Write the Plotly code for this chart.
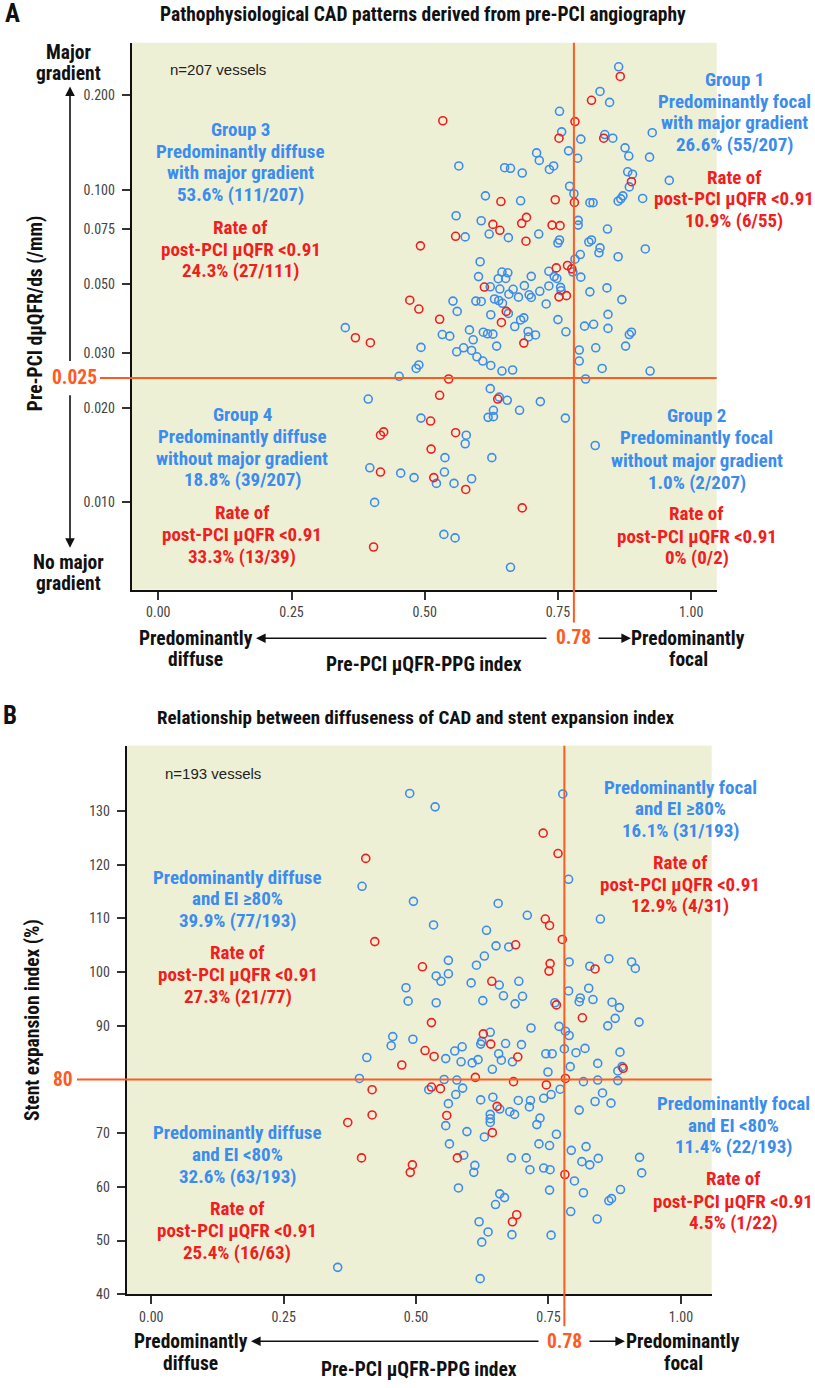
import plotly.graph_objects as go

W, H = 815, 1388

# ---------------- Panel A data (x: pre-PCI uQFR-PPG index, y: dQFR/ds /mm) ----------------
a_blue_x = [0.864, 0.829, 0.847, 0.753, 0.757, 0.793, 0.838, 0.853, 0.927, 0.876,
            0.710, 0.770, 0.883, 0.922, 0.715, 0.787, 0.564, 0.650, 0.661, 0.683,
            0.742, 0.734, 0.881, 0.890, 0.884, 0.959, 0.772, 0.780, 0.614, 0.680,
            0.810, 0.816, 0.863, 0.868, 0.872, 0.909, 0.559, 0.606, 0.788, 0.788,
            0.843, 0.576, 0.621, 0.657, 0.714, 0.753, 0.750, 0.808, 0.813, 0.914,
            0.829, 0.827, 0.863, 0.792, 0.782, 0.604, 0.778, 0.793, 0.733, 0.743,
            0.748, 0.700, 0.645, 0.656, 0.638, 0.652, 0.601, 0.623, 0.641, 0.666,
            0.687, 0.658, 0.676, 0.696, 0.700, 0.716, 0.733, 0.755, 0.756, 0.810,
            0.842, 0.870, 0.553, 0.596, 0.606, 0.631, 0.639, 0.646, 0.728,
            0.561, 0.657, 0.624, 0.680, 0.686, 0.750, 0.844, 0.351, 0.493, 0.533,
            0.547, 0.584, 0.591, 0.610, 0.618, 0.628, 0.669, 0.635, 0.694, 0.695,
            0.708, 0.765, 0.800, 0.817, 0.844, 0.884, 0.888, 0.877, 0.821, 0.790,
            0.790, 0.833, 0.923, 0.802, 0.560, 0.573, 0.588, 0.598, 0.609, 0.624,
            0.645, 0.665, 0.489, 0.484, 0.452, 0.623, 0.640, 0.655, 0.717, 0.678,
            0.629, 0.619, 0.629, 0.764, 0.394, 0.493, 0.578, 0.576, 0.538, 0.626,
            0.820, 0.397, 0.455, 0.480, 0.522, 0.537, 0.555, 0.588, 0.406, 0.536,
            0.557, 0.661]
a_blue_y = [0.247, 0.206, 0.190, 0.178, 0.153, 0.145, 0.150, 0.146, 0.152, 0.136,
            0.131, 0.133, 0.128, 0.127, 0.124, 0.126, 0.119, 0.1175, 0.117, 0.113,
            0.119, 0.116, 0.114, 0.112, 0.102, 0.107, 0.1025, 0.097, 0.0955, 0.0921,
            0.0908, 0.0908, 0.0918, 0.0934, 0.0955, 0.0937, 0.0825, 0.0795, 0.0797, 0.0770,
            0.0748, 0.0706, 0.0721, 0.0702, 0.0721, 0.0690, 0.0675, 0.0680, 0.0690, 0.0646,
            0.0651, 0.0628, 0.0610, 0.0620, 0.0599, 0.0588, 0.0545, 0.0525, 0.0548, 0.0527,
            0.0520, 0.0528, 0.0545, 0.0542, 0.0519, 0.0520, 0.0527, 0.0489, 0.0481, 0.0480,
            0.0493, 0.0463, 0.0453, 0.0461, 0.0452, 0.0473, 0.0492, 0.0487, 0.0475, 0.0471,
            0.0485, 0.0445, 0.0440, 0.0440, 0.0439, 0.0447, 0.0442, 0.0433, 0.0431,
            0.0408, 0.0402, 0.0398, 0.0383, 0.0389, 0.0384, 0.0399, 0.0362, 0.0313, 0.0344,
            0.0340, 0.0356, 0.0331, 0.0350, 0.0346, 0.0345, 0.0365, 0.0316, 0.0352, 0.0338,
            0.0343, 0.0351, 0.0366, 0.0371, 0.0360, 0.0344, 0.0350, 0.0316, 0.0312, 0.0307,
            0.0283, 0.0268, 0.0263, 0.0248, 0.0303, 0.0312, 0.0306, 0.0292, 0.0283, 0.0274,
            0.0263, 0.0265, 0.0275, 0.0268, 0.0253, 0.0231, 0.0217, 0.0212, 0.0210, 0.0197,
            0.0197, 0.0187, 0.0188, 0.0186, 0.0214, 0.0186, 0.0164, 0.0154, 0.0139, 0.0139,
            0.0152, 0.0129, 0.0124, 0.0120, 0.0115, 0.0125, 0.0115, 0.0119, 0.0100, 0.0079,
            0.0077, 0.0062]
a_red_x = [0.867, 0.813, 0.534, 0.782, 0.752, 0.836, 0.888, 0.643, 0.745, 0.781,
           0.691, 0.682, 0.628, 0.641, 0.739, 0.754, 0.558, 0.690, 0.492, 0.747,
           0.768, 0.776, 0.612, 0.752, 0.766, 0.472,
           0.489, 0.653, 0.528, 0.370, 0.398, 0.644, 0.686, 0.545, 0.528, 0.637,
           0.511, 0.423, 0.417, 0.558, 0.512, 0.417, 0.517, 0.577, 0.683, 0.404]
a_red_y = [0.230, 0.193, 0.166, 0.165, 0.146, 0.146, 0.106, 0.0916, 0.0928, 0.0910,
           0.0815, 0.0780, 0.0774, 0.0741, 0.0770, 0.0767, 0.0709, 0.0684, 0.0661, 0.0562,
           0.0572, 0.0558, 0.0488, 0.0454, 0.0458, 0.0443,
           0.0415, 0.0408, 0.0385, 0.0336, 0.0324, 0.0376, 0.0323, 0.0248, 0.0220, 0.0214,
           0.0182, 0.0168, 0.0164, 0.0167, 0.0148, 0.0125, 0.0120, 0.0110, 0.0096, 0.0072]

# ---------------- Panel B data (x: pre-PCI uQFR-PPG index, y: stent expansion index %) ----------------
b_blue_x = [0.488, 0.777, 0.536, 0.788, 0.398, 0.495, 0.655, 0.710, 0.848, 0.533,
            0.633, 0.651, 0.675, 0.561, 0.629, 0.614, 0.538, 0.547, 0.561, 0.789,
            0.828, 0.864, 0.907, 0.914, 0.481, 0.485, 0.538, 0.604, 0.657, 0.694,
            0.665, 0.701, 0.626, 0.687, 0.762, 0.788, 0.810, 0.808, 0.834, 0.826,
            0.870, 0.884, 0.862, 0.876, 0.921, 0.717, 0.770, 0.782, 0.640,
            0.456, 0.453, 0.494, 0.624, 0.622, 0.669, 0.699, 0.789, 0.407, 0.556,
            0.573, 0.587, 0.585, 0.606, 0.617, 0.644, 0.656, 0.661, 0.682, 0.745,
            0.757, 0.780, 0.802, 0.819, 0.791, 0.749, 0.843, 0.885, 0.881, 0.889,
            0.393, 0.352, 0.553, 0.577, 0.816, 0.843, 0.881, 0.772, 0.524, 0.588,
            0.575, 0.561, 0.622, 0.645, 0.658, 0.693, 0.716, 0.714, 0.741, 0.755,
            0.677, 0.686, 0.640, 0.640, 0.640, 0.556, 0.596, 0.629, 0.734, 0.728,
            0.765, 0.808, 0.838, 0.852, 0.868, 0.563, 0.590, 0.611, 0.609, 0.580,
            0.732, 0.752, 0.680, 0.708, 0.715, 0.741, 0.753, 0.793, 0.821, 0.813,
            0.828, 0.844, 0.799, 0.752, 0.816, 0.886, 0.869, 0.864, 0.922, 0.926,
            0.658, 0.667, 0.650, 0.792, 0.842, 0.619, 0.636, 0.624, 0.681, 0.755,
            0.621]
b_blue_y = [133.3, 133.2, 130.8, 117.3, 116.0, 113.2, 112.8, 110.6, 109.9, 108.8,
            107.8, 104.9, 104.7, 102.2, 103.0, 101.3, 99.3, 98.3, 99.7, 101.9,
            101.1, 102.5, 101.9, 100.7, 97.1, 94.6, 94.3, 98.0, 97.6, 98.3,
            95.6, 95.5, 94.7, 94.1, 94.3, 96.5, 95.2, 94.5, 94.9, 97.0,
            94.4, 93.4, 90.0, 91.4, 90.7, 89.6, 89.9, 89.0, 88.8,
            88.0, 86.3, 87.5, 87.1, 86.6, 86.7, 86.5, 88.2, 84.1, 83.9,
            85.3, 86.1, 83.3, 83.1, 83.7, 81.9, 84.8, 83.6, 83.3, 84.8,
            84.8, 85.7, 85.0, 85.8, 82.4, 81.4, 83.0, 85.1, 81.6, 82.4,
            80.2, 45.0, 80.0, 79.9, 79.6, 79.9, 79.8, 78.2, 78.1, 78.4,
            77.2, 75.5, 76.2, 76.7, 74.5, 76.1, 76.1, 74.9, 76.5, 77.2,
            74.0, 73.5, 73.5, 72.7, 72.0, 71.4, 70.3, 69.3, 72.8, 71.6,
            69.8, 74.3, 75.9, 77.5, 75.6, 68.0, 65.9, 64.0, 62.7, 59.8,
            68.0, 67.7, 65.4, 65.4, 63.2, 63.5, 63.2, 66.8, 67.5, 64.7,
            64.1, 65.3, 61.1, 59.4, 58.9, 59.5, 57.8, 57.4, 65.5, 62.6,
            58.7, 58.0, 56.7, 55.4, 54.0, 53.5, 51.6, 49.7, 51.1, 51.0,
            42.9]
b_red_x = [0.740, 0.768, 0.405, 0.744, 0.752, 0.422, 0.776, 0.688, 0.512, 0.753,
           0.751, 0.838, 0.643, 0.765, 0.814, 0.529,
           0.627, 0.641, 0.517, 0.534, 0.692, 0.891, 0.473, 0.417, 0.417, 0.371,
           0.397, 0.493, 0.489, 0.612, 0.684, 0.746, 0.782, 0.529, 0.546, 0.653,
           0.558, 0.644, 0.578, 0.781, 0.690, 0.682]
b_red_y = [125.9, 122.1, 121.2, 109.9, 108.7, 105.7, 106.1, 105.1, 101.0, 101.6,
           100.2, 100.6, 98.3, 93.9, 91.5, 90.6,
           88.5, 86.6, 85.4, 84.3, 84.2, 82.1, 82.7, 78.1, 73.4, 72.0,
           65.4, 64.1, 62.7, 80.4, 79.6, 79.0, 80.2, 78.6, 78.3, 75.0,
           73.3, 70.1, 65.4, 62.3, 54.8, 53.5]

# ---------------- axes / cut-offs ----------------
x_ticks = [0, 0.25, 0.5, 0.75, 1.0]
x_tick_labels = ["0.00", "0.25", "0.50", "0.75", "1.00"]
a_y_ticks = [0.01, 0.02, 0.03, 0.05, 0.075, 0.1, 0.2]
a_y_tick_labels = ["0.010", "0.020", "0.030", "0.050", "0.075", "0.100", "0.200"]
b_y_ticks = [40, 50, 60, 70, 90, 100, 110, 120, 130]
ppg_cutoff = 0.78
gradient_cutoff = 0.025
ei_cutoff = 80

BLUE = "#3C8CEE"
RED = "#F01E1E"
ORANGE = "#FF5A1F"
BG = "#EEF0D6"
BLACK = "#111111"
NARROW = "Roboto Condensed, Noto Sans Condensed, Liberation Sans Narrow, DejaVu Sans Condensed, sans-serif"
REG = "Liberation Sans, Arial, sans-serif"
FS = 19.5   # axis descriptor size
FB = 19     # in-plot block size

fig = go.Figure()
mk = lambda c: dict(symbol="circle-open", size=8, color=c, line=dict(width=1.6, color=c))
fig.add_trace(go.Scatter(x=a_blue_x, y=a_blue_y, mode="markers", marker=mk(BLUE), xaxis="x", yaxis="y", showlegend=False))
fig.add_trace(go.Scatter(x=a_red_x, y=a_red_y, mode="markers", marker=mk(RED), xaxis="x", yaxis="y", showlegend=False))
fig.add_trace(go.Scatter(x=b_blue_x, y=b_blue_y, mode="markers", marker=mk(BLUE), xaxis="x2", yaxis="y2", showlegend=False))
fig.add_trace(go.Scatter(x=b_red_x, y=b_red_y, mode="markers", marker=mk(RED), xaxis="x2", yaxis="y2", showlegend=False))

# plot-area boxes in pixels
A_L, A_R, A_T, A_B = 131.7, 716.7, 43, 593
B_L, B_R, B_T, B_B = 126.7, 711.7, 750, 1301.7

def dom_x(l, r):
    return [l / W, r / W]

def dom_y(t, b):
    return [1 - b / H, 1 - t / H]

axis_common = dict(showline=True, linecolor=BLACK, linewidth=2, ticks="outside", ticklen=8,
                   tickwidth=1.5, tickcolor="#333", showgrid=False, zeroline=False,
                   tickfont=dict(family=NARROW, size=14, color="#444"))

fig.update_layout(
    width=W, height=H, margin=dict(l=0, r=0, t=0, b=0),
    paper_bgcolor="white", plot_bgcolor=BG,
    xaxis=dict(domain=dom_x(A_L, A_R), anchor="y", range=[-0.0499, 1.048],
               tickvals=x_ticks, ticktext=x_tick_labels, ticklabelstandoff=1, **axis_common),
    yaxis=dict(domain=dom_y(A_T, A_B), anchor="x", type="log", range=[-2.2788, -0.5305],
               tickvals=a_y_ticks, ticktext=a_y_tick_labels, ticklabelstandoff=4, **axis_common),
    xaxis2=dict(domain=dom_x(B_L, B_R), anchor="y2", range=[-0.0464, 1.0582],
                tickvals=x_ticks, ticktext=x_tick_labels, ticklabelstandoff=1, **axis_common),
    yaxis2=dict(domain=dom_y(B_T, B_B), anchor="x2", range=[40, 142.2],
                tickvals=b_y_ticks, ticktext=[str(v) for v in b_y_ticks], ticklabelstandoff=4,
                **axis_common),
)

shapes = [
    dict(type="line", xref="paper", yref="y", x0=100 / W, x1=A_R / W, y0=gradient_cutoff, y1=gradient_cutoff,
         line=dict(color=ORANGE, width=2), layer="above"),
    dict(type="line", xref="x", yref="paper", x0=ppg_cutoff, x1=ppg_cutoff, y0=1 - 626 / H, y1=1 - A_T / H,
         line=dict(color=ORANGE, width=2), layer="above"),
    dict(type="line", xref="paper", yref="y2", x0=77 / W, x1=B_R / W, y0=ei_cutoff, y1=ei_cutoff,
         line=dict(color=ORANGE, width=2), layer="above"),
    dict(type="line", xref="x2", yref="paper", x0=ppg_cutoff, x1=ppg_cutoff, y0=1 - 1334 / H, y1=1 - B_T / H,
         line=dict(color=ORANGE, width=2), layer="above"),
]
fig.update_layout(shapes=shapes)

anns = []

def txt(x, y, s, color=BLACK, size=FS, bold=True, xanchor="center", angle=0, family=NARROW):
    anns.append(dict(x=x / W, y=1 - y / H, xref="paper", yref="paper",
                     text=f"<b>{s}</b>" if bold else s, showarrow=False,
                     xanchor=xanchor, yanchor="middle", textangle=angle,
                     font=dict(family=family, size=size, color=color)))

def block(x, ys, lines, color):
    for yy, s in zip(ys, lines):
        txt(x, yy, s, color=color, size=FB)

def arrow(tipx, tipy, tailx, taily):
    anns.append(dict(x=tipx / W, y=1 - tipy / H, xref="paper", yref="paper", text="",
                     showarrow=True, ax=tailx - tipx, ay=taily - tipy, axref="pixel", ayref="pixel",
                     arrowhead=2, arrowsize=1.2, arrowwidth=1.6, arrowcolor=BLACK))

RATE = "post-PCI μQFR &lt;0.91"

# ----- Panel A texts -----
txt(3, 14, "A", size=25, xanchor="left")
txt(423, 15, "Pathophysiological CAD patterns derived from pre-PCI angiography", size=19.5)
txt(168, 70, "n=207 vessels", size=15, bold=False, xanchor="left", family=REG, color="#222")
block(240.7, [130, 152.7, 174, 196], ["Group 3", "Predominantly diffuse", "with major gradient", "53.6% (111/207)"], BLUE)
block(240.7, [229, 250.7, 271.7], ["Rate of", RATE, "24.3% (27/111)"], RED)
block(734, [80, 101.7, 123.3, 145.7], ["Group 1", "Predominantly focal", "with major gradient", "26.6% (55/207)"], BLUE)
block(734, [178.3, 200, 221.7], ["Rate of", RATE, "10.9% (6/55)"], RED)
block(242, [416.7, 439, 461, 482.7], ["Group 4", "Predominantly diffuse", "without major gradient", "18.8% (39/207)"], BLUE)
block(242, [515, 537.3, 559.3], ["Rate of", RATE, "33.3% (13/39)"], RED)
block(696.7, [418.3, 440, 463.3, 485], ["Group 2", "Predominantly focal", "without major gradient", "1.0% (2/207)"], BLUE)
block(696.7, [516.7, 539.3, 561], ["Rate of", RATE, "0% (0/2)"], RED)

txt(68, 53, "Major")
txt(68, 74, "gradient")
txt(68, 566, "No major")
txt(68, 587, "gradient")
arrow(70, 87, 70, 363)
arrow(70, 551, 70, 397)
txt(35, 316, "Pre-PCI dμQFR/ds (/mm)", angle=-90)
txt(99, 380, str(gradient_cutoff), color=ORANGE, xanchor="right")

txt(195.7, 641.7, "Predominantly")
txt(195.7, 663.5, "diffuse")
txt(688, 641.7, "Predominantly")
txt(688, 663.5, "focal")
txt(573, 641, f"{ppg_cutoff:.2f}", color=ORANGE)
txt(424, 668, "Pre-PCI μQFR-PPG index")
arrow(256, 642, 548, 642)
arrow(631, 642, 597, 642)

# ----- Panel B texts -----
txt(1, 720, "B", size=25, xanchor="left")
txt(416, 722, "Relationship between diffuseness of CAD and stent expansion index", size=19)
txt(163, 778, "n=193 vessels", size=15, bold=False, xanchor="left", family=REG, color="#222")
block(238, [882.3, 904, 926], ["Predominantly diffuse", "and EI ≥80%", "39.9% (77/193)"], BLUE)
block(238, [958.3, 980, 1002], ["Rate of", RATE, "27.3% (21/77)"], RED)
block(680, [791.7, 813.3, 835], ["Predominantly focal", "and EI ≥80%", "16.1% (31/193)"], BLUE)
block(680, [867.3, 889.3, 911], ["Rate of", RATE, "12.9% (4/31)"], RED)
block(237.3, [1139.3, 1161, 1183.3], ["Predominantly diffuse", "and EI &lt;80%", "32.6% (63/193)"], BLUE)
block(237.3, [1215.7, 1237.3, 1259.3], ["Rate of", RATE, "25.4% (16/63)"], RED)
block(733, [1110, 1131.7, 1153.3], ["Predominantly focal", "and EI &lt;80%", "11.4% (22/193)"], BLUE)
block(733, [1185.7, 1208.3, 1230], ["Rate of", RATE, "4.5% (1/22)"], RED)

txt(32, 1026, "Stent expansion index (%)", angle=-90)
txt(75, 1086, str(ei_cutoff), color=ORANGE, xanchor="right")
txt(190.7, 1349.3, "Predominantly")
txt(190.7, 1371.7, "diffuse")
txt(683.3, 1349.3, "Predominantly")
txt(683.3, 1371.7, "focal")
txt(564, 1349, f"{ppg_cutoff:.2f}", color=ORANGE)
txt(419, 1377, "Pre-PCI μQFR-PPG index")
arrow(251, 1349, 540, 1349)
arrow(625, 1349, 588, 1349)

fig.update_layout(annotations=anns)
fig.write_html("out.html", config={"displayModeBar": False},
               post_script="document.body.style.margin='0px';document.body.style.overflow='hidden';")
